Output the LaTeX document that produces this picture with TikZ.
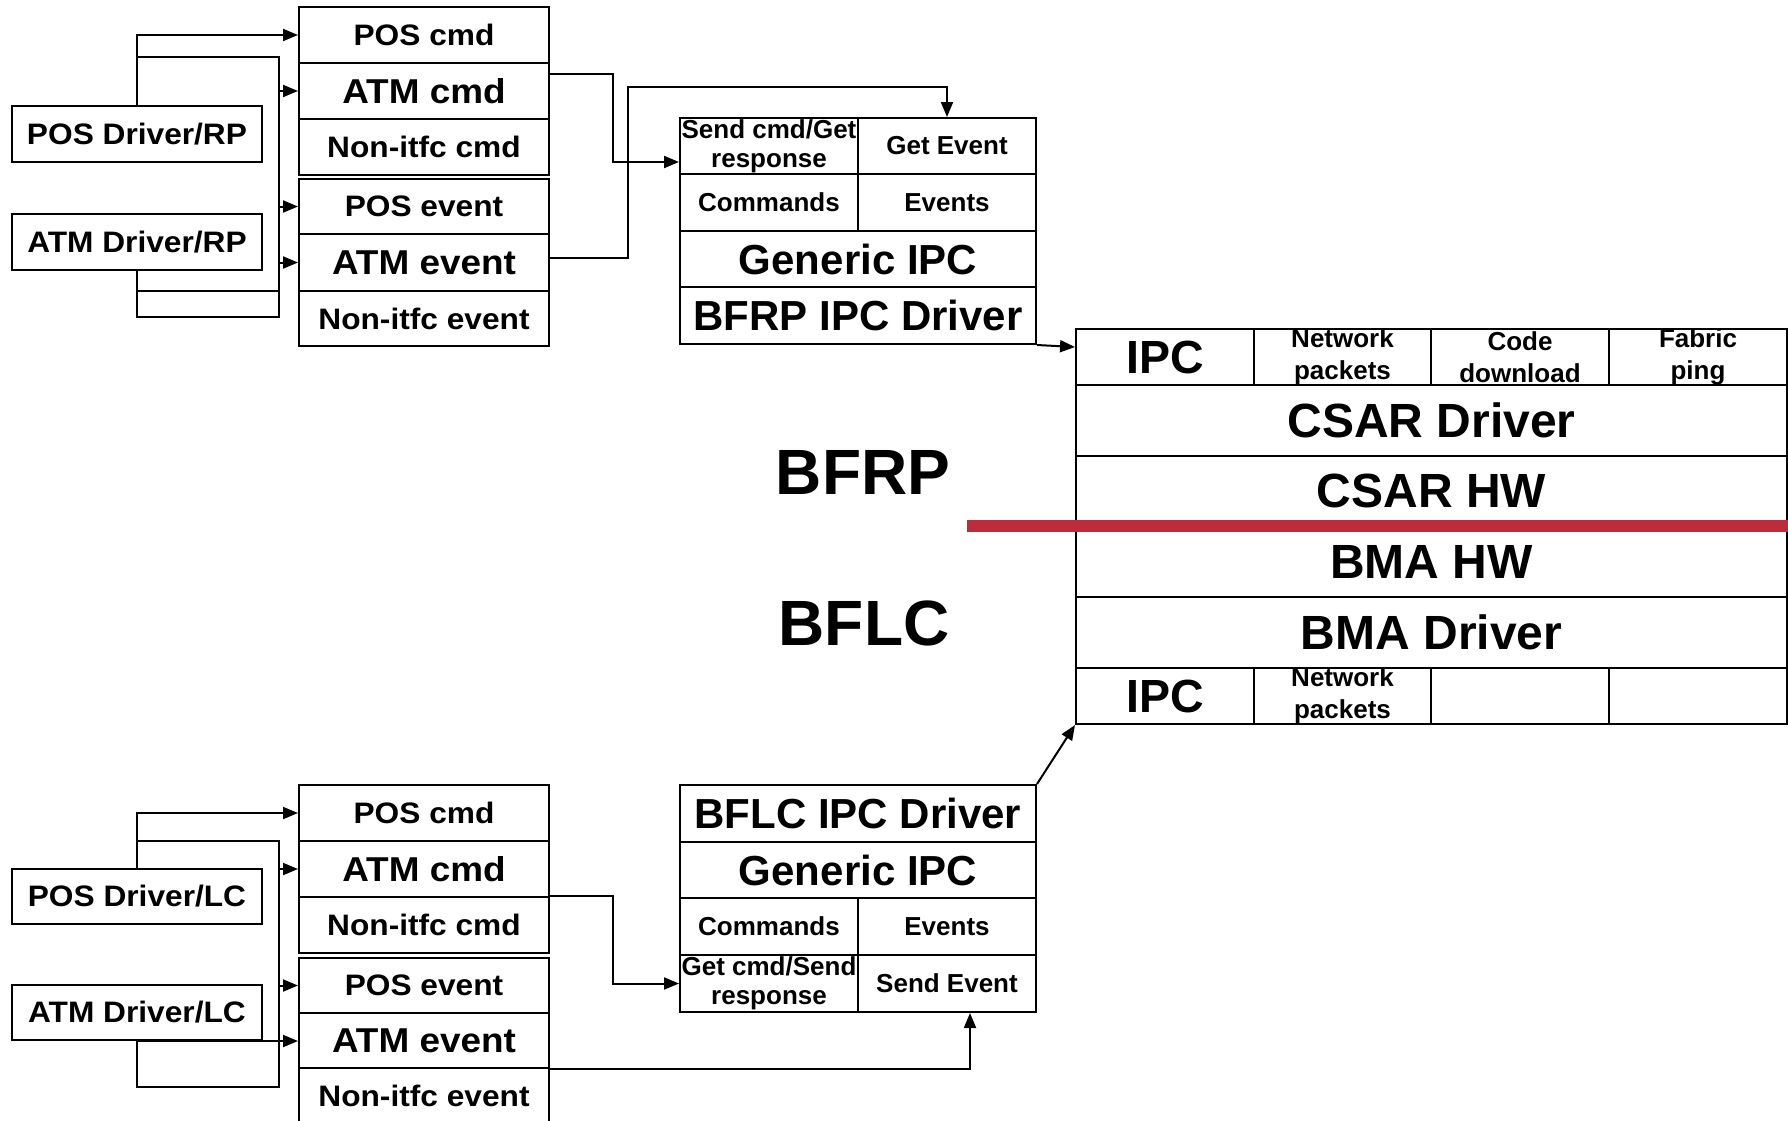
\documentclass[tikz,border=0pt]{standalone}
\usepackage{fontspec}
\setmainfont{Liberation Sans}
\newfontfamily\widefont{Liberation Sans}[FakeStretch=1.07]
\usetikzlibrary{arrows.meta}
\newcommand\fsz[2]{\fontsize{#1}{#2}\selectfont}
\definecolor{redline}{RGB}{187,45,60}
\tikzset{
  cell/.style={draw, line width=2pt, inner sep=0pt, anchor=north west, align=center},
  sA/.style={font=\widefont\bfseries\fsz{29.6pt}{32pt}},
  sB/.style={font=\widefont\bfseries\fsz{34.5pt}{37pt}},
  sC/.style={font=\bfseries\fsz{26pt}{29pt}},
  sD/.style={font=\bfseries\fsz{42pt}{46pt}},
  sE/.style={font=\bfseries\fsz{48pt}{52pt}},
  sN/.style={font=\bfseries\fsz{26pt}{32pt}},
  sI/.style={font=\bfseries\fsz{46.5pt}{50pt}},
  sL/.style={font=\bfseries\fsz{64pt}{66pt}},
  arr/.style={line width=2pt, -{Triangle[length=15pt,width=12pt]}},
  wire/.style={line width=2pt},
}
\begin{document}
\begin{tikzpicture}[x=1pt,y=-1pt]
\fill[white] (0,0) rectangle (1788,1120);
\clip (0,0) rectangle (1788,1120);

% ---------- top left (RP) ----------
\node[cell,sA,minimum width=250pt,minimum height=56pt] (poscmd) at (298,6) {POS cmd};
\node[cell,sB,minimum width=250pt,minimum height=56pt] (atmcmd) at (298,62) {ATM cmd};
\node[cell,sA,minimum width=250pt,minimum height=56pt] (nicmd) at (298,118) {Non-itfc cmd};
\node[cell,sA,minimum width=250pt,minimum height=55pt] (posev) at (298,178) {POS event};
\node[cell,sB,minimum width=250pt,minimum height=57pt] (atmev) at (298,233) {ATM event};
\node[cell,sA,minimum width=250pt,minimum height=55pt] (niev) at (298,290) {Non-itfc event};
\node[cell,sA,minimum width=250pt,minimum height=56pt] (posrp) at (11,105) {POS Driver/RP};
\node[cell,sA,minimum width=250pt,minimum height=56pt] (atmrp) at (11,213) {ATM Driver/RP};

% ---------- BFRP stack ----------
\node[cell,sC,minimum width=178pt,minimum height=56pt] (sc) at (679,117) {Send cmd/Get\\response};
\node[cell,sC,minimum width=178pt,minimum height=56pt] (ge) at (857,117) {Get Event};
\node[cell,sC,minimum width=178pt,minimum height=57pt] (cm) at (679,173) {Commands};
\node[cell,sC,minimum width=178pt,minimum height=57pt] (ev) at (857,173) {Events};
\node[cell,sD,minimum width=356pt,minimum height=56pt] (gi) at (679,230) {Generic IPC};
\node[cell,sD,minimum width=356pt,minimum height=57pt] (rdrv) at (679,286) {BFRP IPC Driver};

% ---------- big box ----------
\node[cell,sI,minimum width=178pt,minimum height=56pt] (ipc1) at (1075,328) {IPC};
\node[cell,sN,minimum width=177pt,minimum height=56pt] (np1) at (1253,328) {Network\\packets};
\node[cell,sN,minimum width=178pt,minimum height=56pt] (cd) at (1430,328) {Code\\download};
\node[cell,sN,minimum width=178pt,minimum height=56pt] (fp) at (1608,328) {Fabric\\ping};
\node[cell,sE,minimum width=711pt,minimum height=71pt] (csard) at (1075,384) {CSAR Driver};
\node[cell,sE,minimum width=711pt,minimum height=70pt] (csarh) at (1075,455) {CSAR HW};
\node[cell,sE,minimum width=711pt,minimum height=71pt] (bmah) at (1075,525) {BMA HW};
\node[cell,sE,minimum width=711pt,minimum height=71pt] (bmad) at (1075,596) {BMA Driver};
\node[cell,sI,minimum width=178pt,minimum height=56pt] (ipc2) at (1075,667) {IPC};
\node[cell,sN,minimum width=177pt,minimum height=56pt] (np2) at (1253,667) {Network\\packets};
\node[cell,minimum width=178pt,minimum height=56pt] (e1) at (1430,667) {};
\node[cell,minimum width=178pt,minimum height=56pt] (e2) at (1608,667) {};

\draw[line width=12pt, draw=redline] (967,525.5) -- (1788,525.5);

\node[sL] (lrp) at (863,472) {BFRP};
\node[sL] (llc) at (864,623) {BFLC};

% ---------- BFLC stack ----------
\node[cell,sD,minimum width=356pt,minimum height=57pt] (bdrv) at (679,784) {BFLC IPC Driver};
\node[cell,sD,minimum width=356pt,minimum height=56pt] (bgi) at (679,841) {Generic IPC};
\node[cell,sC,minimum width=178pt,minimum height=57pt] (bcm) at (679,897) {Commands};
\node[cell,sC,minimum width=178pt,minimum height=57pt] (bev) at (857,897) {Events};
\node[cell,sC,minimum width=178pt,minimum height=57pt] (gc) at (679,954) {Get cmd/Send\\response};
\node[cell,sC,minimum width=178pt,minimum height=57pt] (se) at (857,954) {Send Event};

% ---------- bottom left (LC) ----------
\node[cell,sA,minimum width=250pt,minimum height=56pt] (poscmd2) at (298,784) {POS cmd};
\node[cell,sB,minimum width=250pt,minimum height=56pt] (atmcmd2) at (298,840) {ATM cmd};
\node[cell,sA,minimum width=250pt,minimum height=56pt] (nicmd2) at (298,896) {Non-itfc cmd};
\node[cell,sA,minimum width=250pt,minimum height=55pt] (posev2) at (298,957) {POS event};
\node[cell,sB,minimum width=250pt,minimum height=55pt] (atmev2) at (298,1012) {ATM event};
\node[cell,sA,minimum width=250pt,minimum height=56pt] (niev2) at (298,1067) {Non-itfc event};
\node[cell,sA,minimum width=250pt,minimum height=55pt] (poslc) at (11,868) {POS Driver/LC};
\node[cell,sA,minimum width=250pt,minimum height=55pt] (atmlc) at (11,984) {ATM Driver/LC};

% ---------- connectors top ----------
\coordinate (tb1) at (279,57);
\coordinate (tb2) at (279,317);
\draw[arr] (posrp.north) |- (poscmd.west);
\draw[wire] (posrp.north |- tb1) -- (tb1) -- (tb2) -- (atmrp.south |- tb2) -- (atmrp.south);
\draw[wire] (atmrp.south |- 0,291) -- (tb1 |- 0,291);
\draw[arr] (tb1 |- atmcmd.west) -- (atmcmd.west);
\draw[arr] (tb1 |- posev.west) -- (posev.west);
\draw[arr] (tb1 |- atmev.west) -- (atmev.west);
\draw[arr] ([yshift=17pt]atmcmd.east) -| ([xshift=-66pt,yshift=-16pt]sc.west) -- ([yshift=-16pt]sc.west);
\draw[arr] ([yshift=4.5pt]atmev.east) -| (628,87) -| (ge.north);
\draw[arr] (rdrv.south east) -- ([yshift=10pt]ipc1.west);

% ---------- connectors bottom ----------
\coordinate (bb1) at (279,841);
\coordinate (bb2) at (279,1087);
\draw[arr] (poslc.north) |- (poscmd2.west);
\draw[wire] (poslc.north |- bb1) -- (bb1) -- (bb2) -- (atmlc.south |- bb2) -- (atmlc.south);
\draw[arr] (bb1 |- atmcmd2.west) -- (atmcmd2.west);
\draw[arr] (bb1 |- posev2.west) -- (posev2.west);
\draw[arr] (atmlc.south) -- (atmlc.south -| atmev2.west);
\draw[arr] (nicmd2.north east) -| ([xshift=-66pt]gc.west) -- (gc.west);
\draw[arr] (atmev2.south east) -| ([xshift=23pt]se.south);
\draw[arr] (bdrv.north east) -- (ipc2.south west);
\end{tikzpicture}
\end{document}
